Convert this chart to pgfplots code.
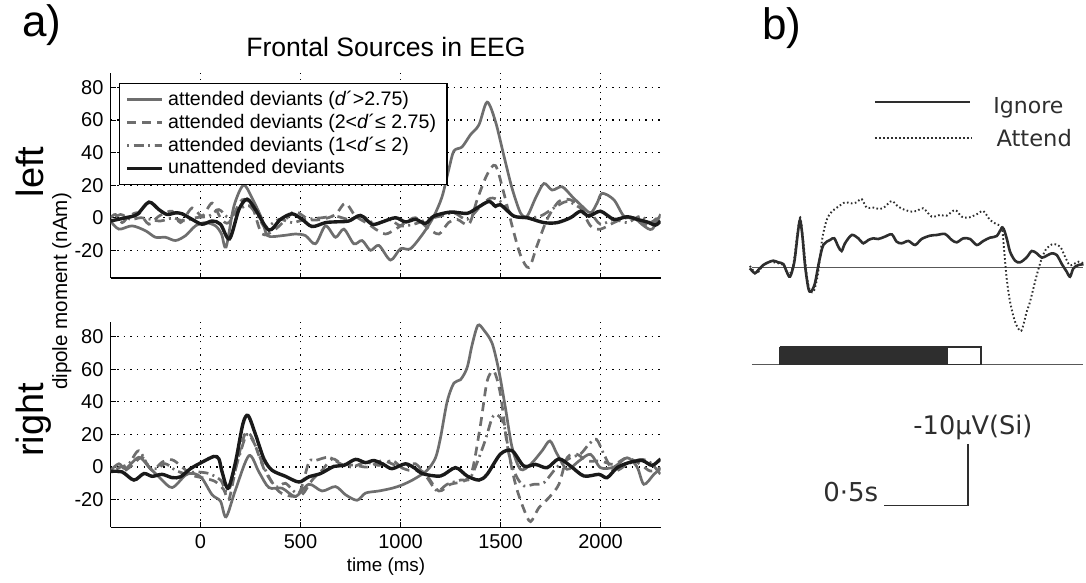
\documentclass[border=0pt]{standalone}
\usepackage{pgfplots}
\pgfplotsset{compat=1.18}
\usepackage{fontspec}
\setmainfont{Liberation Sans}
\newfontfamily\scanfont{DejaVu Sans}
\definecolor{lgray}{HTML}{6E6E6E}
\definecolor{dblack}{HTML}{1A1A1A}
\definecolor{scan}{HTML}{2E2E2E}

\pgfplotsset{
  eegaxis/.style={
    scale only axis, width=275pt, height=102.6pt,
    xmin=-450, xmax=2300, ymin=-37, ymax=89,
    axis x line*=bottom, axis y line*=left,
    axis line style={black, line width=0.6pt, -},
    xtick={0,500,1000,1500,2000}, ytick={-20,0,20,40,60,80},
    grid=major,
    major grid style={black, line width=0.55pt, dash pattern=on 0.7pt off 2.6pt},
    tick align=inside, major tick length=2.5pt,
    tick style={black, line width=0.5pt},
    tick label style={font=\fontsize{10}{10}\selectfont},
    /pgf/number format/assume math mode=true,
    /pgf/number format/1000 sep={},
  },
  s1/.style={lgray, line width=1.35pt, smooth, tension=0.5},
  s2/.style={lgray, line width=1.35pt, dash pattern=on 4.5pt off 3pt, smooth, tension=0.5},
  s3/.style={lgray, line width=1.35pt, dash pattern=on 1pt off 2.2pt on 5pt off 2.2pt, smooth, tension=0.5},
  s4/.style={dblack, line width=1.7pt, smooth, tension=0.5},
}

\begin{document}
\begin{tikzpicture}[x=1pt,y=1pt]
\path[use as bounding box] (0,0) rectangle (543,291.5);

% ---------------- top (left) axis ----------------
\begin{axis}[eegaxis, at={(55.25pt,152.5pt)}, anchor=south west,
  xticklabels={},
  legend style={at={(0.0155,0.951)}, anchor=north west, draw=black, line width=0.6pt,
    font=\fontsize{9.8}{10}\selectfont, row sep=1.6pt, inner xsep=3pt, inner ysep=3pt,
    nodes={inner xsep=2.5pt, inner ysep=0.6pt}},
  legend cell align=left]
\addplot[s1] coordinates {
(-450,-2) (-408,-7) (-342,-5) (-275,-8) (-225,-12) (-175,-12) (-125,-14) (-75,-11) (-25,-5)
(25,-3) (75,-5) (105,-10) (128,-18) (167,7) (215,20) (258,12) (308,-1) (335,-11) (408,-11)
(475,-10) (525,-11) (575,-16) (625,-5) (675,-12) (717,-7) (767,-16) (808,-14) (850,-20)
(892,-17) (950,-26) (1000,-19) (1050,-19) (1117,-9) (1167,1) (1208,13) (1242,30) (1267,41)
(1308,43.5) (1350,51) (1392,57) (1433,71) (1475,59) (1517,38) (1558,18) (1600,3) (1633,1)
(1675,12) (1717,21) (1758,17) (1808,19) (1858,13) (1900,8) (1950,3) (1983,9) (2008,15)
(2067,11) (2117,1) (2167,0) (2217,-5) (2258,-7) (2300,2)};
\addlegendentry{attended deviants (\textit{d}´>2.75)}
\addplot[s2] coordinates {
(-450,0) (-425,2) (-392,-3) (-358,1) (-308,3) (-258,-4) (-208,1) (-142,4) (-100,-3) (-42,6)
(8,1) (58,9) (100,0) (142,-3) (208,11) (258,7) (308,-10) (375,-7) (442,1) (475,4) (542,-1)
(608,-1) (675,2) (725,9) (775,1) (842,-4) (875,-7) (925,-10) (975,-7) (1025,-3) (1075,0)
(1133,-6) (1192,-10) (1240,-3) (1283,-1) (1342,-4) (1383,11) (1433,26.5) (1475,32) (1517,15)
(1558,-5) (1600,-23) (1642,-30.6) (1683,-17) (1733,-1) (1792,10) (1850,11) (1900,6)
(1950,-5) (2000,-7) (2067,-3) (2133,0) (2200,-2) (2250,-5) (2300,2)};
\addlegendentry{attended deviants (2<\textit{d}´≤ 2.75)}
\addplot[s3] coordinates {
(-450,-2) (-400,2) (-350,-1) (-300,0) (-250,-1) (-200,-2) (-133,0) (-92,-2) (-25,0) (42,1)
(92,5) (142,0) (192,5) (242,7.4) (292,0) (325,-6) (392,-1) (458,-3) (525,-1) (608,0) (675,1)
(742,-1) (808,1) (875,-4) (942,-1) (1000,-5) (1067,-4) (1133,-1) (1200,1) (1267,3) (1333,-1)
(1400,7) (1450,12) (1500,10) (1567,1) (1633,0) (1700,1) (1767,6) (1833,10) (1900,6) (1950,3)
(2000,-4) (2067,-1) (2133,-3) (2200,1) (2250,-3) (2300,2)};
\addlegendentry{attended deviants (1<\textit{d}´≤ 2)}
\addplot[s4] coordinates {
(-450,-2) (-375,0) (-317,2) (-258,9.6) (-208,5) (-167,2) (-125,3) (-92,2.4) (-42,-1) (8,-4)
(58,-2) (100,-4) (145,-13) (192,5) (233,11.4) (275,5) (342,-7.6) (400,-1) (458,2.4) (508,-1)
(558,-5.4) (625,-3) (683,-2.5) (742,-2) (800,1.4) (858,-4) (908,-2.6) (975,0) (1025,-2.6)
(1075,-1) (1125,-3.5) (1167,1) (1250,3.5) (1333,2.7) (1383,6) (1442,10) (1475,7) (1500,8)
(1567,1) (1633,0) (1717,-3) (1783,-3) (1850,0) (1900,4) (1942,1) (2000,4) (2067,-1)
(2133,0.6) (2183,-1) (2233,-2.6) (2275,-4.5) (2300,-2)};
\addlegendentry{unattended deviants}
\end{axis}

% ---------------- bottom (right) axis ----------------
\begin{axis}[eegaxis, at={(55.25pt,27.85pt)}, anchor=south west]
\addplot[s1] coordinates {
(-450,-2) (-408,2) (-375,-1) (-308,6) (-258,0) (-200,-7) (-142,-12.6) (-75,-5) (-33,-4) (8,-7)
(58,-17) (100,-21) (128,-30.6) (175,-14) (242,7) (292,-3) (342,-12.6) (408,-13) (475,-18)
(542,-10.6) (608,-14.7) (675,-12) (725,-17) (783,-20.4) (825,-16) (892,-14.7) (958,-13)
(1008,-11) (1067,-7.5) (1133,-2) (1175,5.7) (1200,18) (1233,40) (1267,51.6) (1300,53.6)
(1333,61) (1358,75) (1387,87) (1417,84) (1458,76) (1492,59) (1525,36) (1558,12) (1600,-1.4)
(1650,1.6) (1708,10) (1747,16) (1783,8) (1833,-1.4) (1892,3.7) (1950,7.8) (2000,-0.4)
(2067,0) (2133,5.7) (2183,0) (2217,-10.6) (2267,-4.5) (2300,-1)};
\addplot[s2] coordinates {
(-450,-2) (-392,-3) (-342,1) (-292,6) (-242,-2) (-192,3) (-142,4.5) (-92,0) (-42,-5) (25,-7)
(75,-9) (117,-14) (142,-20) (183,3) (225,21) (258,18) (292,7) (325,-3) (392,-15) (458,-18)
(508,-17) (558,-8) (608,-2) (658,5) (708,2) (775,1) (842,0) (908,4) (975,1) (1042,-2)
(1100,-2) (1133,-5.5) (1192,-14.7) (1250,-10.6) (1317,-8.6) (1358,-2.5) (1400,26) (1433,52.6)
(1467,58.8) (1500,44.5) (1533,14) (1575,-10.6) (1617,-26) (1650,-33.5) (1692,-25)
(1742,-18.8) (1792,-10.6) (1833,5.7) (1883,7.8) (1933,3.7) (2000,3.7) (2067,1.6) (2133,5.7)
(2200,1.6) (2250,-2.5) (2300,-0.4)};
\addplot[s3] coordinates {
(-450,-3) (-400,0) (-358,2) (-308,10) (-258,0) (-217,-1) (-175,2) (-125,-2) (-75,-4) (-25,-3)
(42,-4) (100,-8) (138,-15) (192,6) (233,20) (275,13) (317,0) (375,-12) (425,-10) (492,-16)
(542,3) (575,4) (642,6) (700,2) (758,0) (825,3) (892,1) (958,4) (1008,0) (1075,2) (1133,-6.5)
(1183,-14.7) (1233,-10.6) (1300,-8) (1350,-6.5) (1417,14) (1458,30) (1483,32) (1517,26)
(1550,3.7) (1583,-6.5) (1617,-11.6) (1667,-10.6) (1717,-9.6) (1783,0) (1850,5.7) (1900,8)
(1942,14) (1980,17) (2017,7.8) (2067,-2.5) (2133,1.6) (2200,4.7) (2250,2.7) (2300,-4.5)};
\addplot[s4] coordinates {
(-450,-2.7) (-392,-3) (-333,-8) (-283,-4) (-242,-5.7) (-192,-4.5) (-142,-6.5) (-100,-6)
(-50,-1) (8,3) (67,6.5) (92,5) (108,-3) (138,-13) (175,3) (212,26.5) (238,31.6) (275,20)
(317,5) (358,-2) (425,-5.7) (492,-9.2) (542,-6) (600,-4) (667,0.4) (717,1) (775,4.7)
(825,2.7) (867,4) (917,1.5) (958,-1) (1025,2) (1075,-1) (1108,-4) (1200,-5.5) (1275,-0.4)
(1333,-5.5) (1392,-8) (1433,-4.5) (1500,8) (1558,10) (1617,0.6) (1675,1.6) (1733,-0.4)
(1792,5) (1850,0.6) (1917,-5.5) (1992,-4.5) (2033,-6.5) (2083,-0.4) (2142,2.7) (2208,4)
(2258,1) (2300,5)};
\end{axis}

% ---------------- panel b ----------------
\begin{axis}[at={(372.5pt,31.5pt)}, anchor=south west, scale only axis,
  width=170.5pt, height=230pt, xmin=-0.208, xmax=1.821, ymin=-33.72, ymax=40.96,
  y dir=reverse, hide axis, clip=false]
% baselines
\addplot[scan!80, line width=0.7pt] coordinates {(-0.167,0) (1.804,0)};
\addplot[scan!80, line width=0.7pt] coordinates {(-0.167,15.68) (1.804,15.68)};
% stimulus bar
\addplot[draw=scan, fill=scan, line width=0.5pt] coordinates {(0,12.87) (0.994,12.87) (0.994,15.68) (0,15.68) (0,12.87)};
\addplot[draw=scan, fill=white, line width=0.7pt] coordinates {(0.994,12.87) (1.196,12.87) (1.196,15.68) (0.994,15.68) (0.994,12.87)};
% legend lines
\addplot[scan, line width=1.1pt] coordinates {(0.565,-26.9) (1.131,-26.9)};
\addplot[scan, line width=0.9pt, dash pattern=on 0.8pt off 1.2pt] coordinates {(0.565,-21.06) (1.143,-21.06)};
% scale bar
\addplot[scan, line width=0.9pt] coordinates {(1.119,28.62) (1.119,38.62) (0.619,38.62)};
% Ignore
\addplot[scan, line width=1.3pt, smooth, tension=0.5] coordinates {
(-0.179,0.1) (-0.149,0.91) (-0.129,0.37) (-0.099,-0.44) (-0.069,-0.87) (-0.040,-1.14)
(-0.010,-0.87) (0.020,-0.6) (0.040,0.64) (0.060,1.46) (0.085,-0.87) (0.105,-5.31) (0.119,-7.74)
(0.133,-5.31) (0.149,-0.44) (0.169,3.35) (0.185,3.89) (0.208,2.54) (0.232,-0.87) (0.258,-3.69)
(0.298,-4.5) (0.323,-4.77) (0.347,-3.42) (0.367,-2.71) (0.387,-3.96) (0.427,-5.31) (0.466,-4.77)
(0.496,-3.96) (0.526,-4.5) (0.556,-4.77) (0.585,-4.66) (0.625,-5.04) (0.665,-5.42) (0.694,-4.23)
(0.724,-3.96) (0.764,-4.34) (0.804,-3.69) (0.843,-4.66) (0.893,-5.2) (0.933,-5.31) (0.982,-5.47)
(1.022,-4.5) (1.052,-4.12) (1.091,-4.77) (1.131,-4.66) (1.171,-3.69) (1.210,-4.34) (1.250,-4.88)
(1.290,-5.15) (1.325,-6.5) (1.349,-4.77) (1.369,-2.6) (1.399,-1.14) (1.429,-0.87) (1.468,-1.68)
(1.498,-2.71) (1.528,-2.33) (1.558,-1.63) (1.587,-1.95) (1.617,-2.33) (1.647,-2.06) (1.677,-0.6)
(1.706,0.64) (1.726,1.46) (1.746,0.1) (1.776,-0.44) (1.806,-0.55)};
% Attend
\addplot[scan, line width=0.95pt, dash pattern=on 0.8pt off 1.2pt, smooth, tension=0.5] coordinates {
(-0.179,-0.28) (-0.139,0.91) (-0.099,-0.44) (-0.060,-0.98) (-0.020,-0.76) (0.020,-0.44)
(0.050,1.19) (0.079,-0.44) (0.105,-5.85) (0.121,-8.12) (0.139,-4.23) (0.159,1.19) (0.179,3.79)
(0.204,3.62) (0.228,0.64) (0.252,-4.77) (0.278,-7.74) (0.308,-9.1) (0.347,-9.91) (0.387,-10.61)
(0.427,-10.45) (0.456,-10.61) (0.486,-11.15) (0.516,-9.75) (0.556,-9.75) (0.595,-9.53)
(0.625,-9.91) (0.665,-10.83) (0.704,-9.91) (0.744,-9.37) (0.784,-9.1) (0.813,-9.2) (0.853,-9.64)
(0.903,-8.29) (0.952,-8.56) (0.992,-8.45) (1.042,-9.37) (1.081,-8.29) (1.121,-8.12) (1.171,-8.67)
(1.210,-9.2) (1.250,-7.74) (1.290,-7.04) (1.320,-6.5) (1.333,-3.14) (1.349,1.73) (1.369,5.52)
(1.399,8.77) (1.435,10.26) (1.468,7.15) (1.488,5.52) (1.528,1.19) (1.558,-1.52) (1.587,-3.14)
(1.627,-3.85) (1.667,-3.42) (1.696,-1.79) (1.722,-0.44) (1.746,-0.55) (1.776,-0.98) (1.806,-0.71)};
\node[anchor=base west, inner sep=0pt, text=scan, font=\scanfont\fontsize{11}{11}\selectfont] at (axis cs:1.268,-25.1) {Ignore};
\node[anchor=base west, inner sep=0pt, text=scan, font=\scanfont\fontsize{11.3}{11}\selectfont] at (axis cs:1.286,-19.6) {Attend};
\node[anchor=base west, inner sep=0pt, text=scan, font=\scanfont\fontsize{12.8}{12}\selectfont] at (axis cs:0.792,27.1) {-10µV(Si)};
\node[anchor=base west, inner sep=0pt, text=scan, font=\scanfont\fontsize{13}{13}\selectfont] at (axis cs:0.256,38.0) {0·5s};
\end{axis}

% ---------------- texts ----------------
\node[anchor=base west, inner sep=0pt, font=\fontsize{22}{22}\selectfont] at (11,273) {a)};
\node[anchor=base west, inner sep=0pt, font=\fontsize{22}{22}\selectfont] at (381,271.5) {b)};
\node[anchor=base, inner sep=0pt, font=\fontsize{13.3}{13.3}\selectfont] at (193,263.25) {Frontal Sources in EEG};
\node[anchor=base, inner sep=0pt, rotate=90, font=\fontsize{19}{19}\selectfont] at (21.5,205.5) {left};
\node[anchor=base, inner sep=0pt, rotate=90, font=\fontsize{19}{19}\selectfont] at (21.5,81.5) {right};
\node[anchor=base, inner sep=0pt, rotate=90, font=\fontsize{10.3}{10.3}\selectfont] at (33.5,145.75) {dipole moment (nAm)};
\node[anchor=base, inner sep=0pt, font=\fontsize{9.4}{9.4}\selectfont] at (193,5.5) {time (ms)};
\end{tikzpicture}
\end{document}
